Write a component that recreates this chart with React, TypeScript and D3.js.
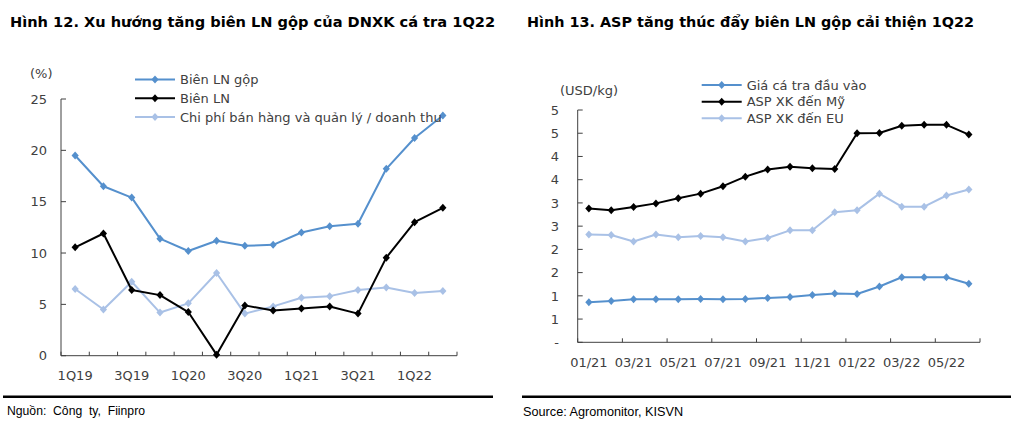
import React from "react";
import * as d3 from "d3";

// Left chart data (Hình 12)
const quarters = ["1Q19","2Q19","3Q19","4Q19","1Q20","2Q20","3Q20","4Q20","1Q21","2Q21","3Q21","4Q21","1Q22","2Q22"];
const grossMargin = [19.5,16.5,15.4,11.4,10.2,11.2,10.7,10.8,12.0,12.6,12.85,18.2,21.2,23.4];
const netMargin = [10.55,11.9,6.4,5.9,4.25,0.1,4.9,4.4,4.6,4.8,4.1,9.55,13.0,14.4];
const sgaRatio = [6.5,4.5,7.2,4.2,5.1,8.05,4.1,4.8,5.65,5.8,6.4,6.65,6.1,6.3];
const leftTicks = [0,5,10,15,20,25];

// Right chart data (Hình 13)
const months = ["01/21","02/21","03/21","04/21","05/21","06/21","07/21","08/21","09/21","10/21","11/21","12/21","01/22","02/22","03/22","04/22","05/22","06/22"];
const rawFishPrice = [0.86,0.89,0.925,0.925,0.925,0.93,0.925,0.93,0.955,0.975,1.02,1.05,1.04,1.2,1.4,1.4,1.4,1.26];
const aspUS = [2.88,2.84,2.91,2.99,3.1,3.2,3.36,3.565,3.72,3.78,3.745,3.73,4.5,4.505,4.66,4.685,4.68,4.47];
const aspEU = [2.32,2.31,2.17,2.32,2.26,2.29,2.26,2.17,2.245,2.41,2.41,2.8,2.84,3.2,2.92,2.92,3.16,3.29];
const rightTicks = [0,0.5,1,1.5,2,2.5,3,3.5,4,4.5,5];

const BLUE = "#5590CD";
const LIGHT = "#A9C1E6";
const BLACK = "#000000";
const AXIS = "#404040";
const TXT = "#404040";
const FONT = "Tahoma, 'DejaVu Sans', sans-serif";
const SRC_FONT = "'Liberation Sans Narrow', 'Liberation Sans', Arial, sans-serif";

const diamond = (x: number, y: number) => `M${x},${y - 4}L${x + 3.6},${y}L${x},${y + 4}L${x - 3.6},${y}Z`;

function Series({ xs, ys, color }: { xs: number[]; ys: number[]; color: string }) {
  const pts = xs.map((x, i) => [x, ys[i]] as [number, number]);
  const line = d3.line()(pts) || "";
  return (
    <g>
      <path d={line} fill="none" stroke={color} strokeWidth={2} strokeLinejoin="round" />
      {pts.map((p, i) => (
        <path key={i} d={diamond(p[0], p[1])} fill={color} />
      ))}
    </g>
  );
}

function LegendItem({ x, y, color, label }: { x: number; y: number; color: string; label: string }) {
  return (
    <g>
      <line x1={x} x2={x + 40} y1={y} y2={y} stroke={color} strokeWidth={2} />
      <path d={diamond(x + 20, y)} fill={color} />
      <text x={x + 45} y={y} dy="0.36em" fontSize={13} fill={TXT} fontFamily={FONT}>{label}</text>
    </g>
  );
}

function LeftChart() {
  const x = d3.scaleBand<string>().domain(quarters).range([61, 457]);
  const y = d3.scaleLinear().domain([0, 25]).range([355.7, 99]);
  const cx = (c: string) => (x(c) as number) + x.bandwidth() / 2;
  const xs = quarters.map(cx);
  const boundaries = quarters.map((c) => x(c) as number).concat([457]);
  return (
    <g>
      <text x={10} y={22} dy="0.36em" fontSize={14.6} fontWeight="bold" fontFamily={FONT} fill="#000">
        Hình 12. Xu hướng tăng biên LN gộp của DNXK cá tra 1Q22
      </text>
      <text x={30} y={73} dy="0.36em" fontSize={13} fill={TXT} fontFamily={FONT}>(%)</text>
      <line x1={61} x2={61} y1={y(25)} y2={y(0)} stroke={AXIS} strokeWidth={1} />
      <line x1={61} x2={457} y1={y(0)} y2={y(0)} stroke={AXIS} strokeWidth={1} />
      {leftTicks.map((t) => (
        <g key={t}>
          <line x1={61} x2={66} y1={y(t)} y2={y(t)} stroke={AXIS} />
          <text x={47} y={y(t)} dy="0.36em" textAnchor="end" fontSize={13} fill={TXT} fontFamily={FONT}>{t}</text>
        </g>
      ))}
      {boundaries.map((b, i) => (
        <line key={i} x1={b} x2={b} y1={y(0)} y2={y(0) - 4} stroke={AXIS} />
      ))}
      {quarters.map((q, i) =>
        i % 2 === 0 ? (
          <text key={q} x={cx(q)} y={375} dy="0.36em" textAnchor="middle" fontSize={13} fill={TXT} fontFamily={FONT}>{q}</text>
        ) : null
      )}
      <Series xs={xs} ys={sgaRatio.map(y)} color={LIGHT} />
      <Series xs={xs} ys={grossMargin.map(y)} color={BLUE} />
      <Series xs={xs} ys={netMargin.map(y)} color={BLACK} />
      <LegendItem x={135} y={79.5} color={BLUE} label="Biên LN gộp" />
      <LegendItem x={135} y={98.3} color={BLACK} label="Biên LN" />
      <LegendItem x={135} y={117} color={LIGHT} label="Chi phí bán hàng và quản lý / doanh thu" />
      <line x1={3} x2={493} y1={396.7} y2={396.7} stroke="#000" strokeWidth={2.5} />
      <text x={7} y={411} dy="0.36em" fontSize={12.2} fontFamily={SRC_FONT} fill="#000" style={{ whiteSpace: "pre" }}>
        {"Nguồn:  Công  ty,  Fiinpro"}
      </text>
    </g>
  );
}

function RightChart() {
  const x = d3.scaleBand<string>().domain(months).range([577.7, 980]);
  const y = d3.scaleLinear().domain([0, 5]).range([342.3, 110]);
  const cx = (c: string) => (x(c) as number) + x.bandwidth() / 2;
  const xs = months.map(cx);
  const boundaries = months.filter((_, i) => i % 2 === 0).map((c) => x(c) as number).concat([980]);
  const fmt = (v: number) => (v === 0 ? "-" : String(Math.round(v + 1e-9)));
  return (
    <g>
      <text x={527} y={22} dy="0.36em" fontSize={14.4} fontWeight="bold" fontFamily={FONT} fill="#000">
        Hình 13. ASP tăng thúc đẩy biên LN gộp cải thiện 1Q22
      </text>
      <text x={560} y={90} dy="0.36em" fontSize={13} fill={TXT} fontFamily={FONT}>(USD/kg)</text>
      <line x1={577.7} x2={577.7} y1={y(5)} y2={y(0)} stroke={AXIS} />
      <line x1={577.7} x2={980} y1={y(0)} y2={y(0)} stroke={AXIS} />
      {rightTicks.map((t) => (
        <g key={t}>
          <line x1={577.7} x2={582.7} y1={y(t)} y2={y(t)} stroke={AXIS} />
          <text x={559} y={y(t)} dy="0.36em" textAnchor="end" fontSize={13} fill={TXT} fontFamily={FONT}>{fmt(t)}</text>
        </g>
      ))}
      {boundaries.map((b, i) => (
        <line key={i} x1={b} x2={b} y1={y(0)} y2={y(0) - 4} stroke={AXIS} />
      ))}
      {months.map((m, i) =>
        i % 2 === 0 ? (
          <text key={m} x={cx(m)} y={362} dy="0.36em" textAnchor="middle" fontSize={13} fill={TXT} fontFamily={FONT}>{m}</text>
        ) : null
      )}
      <Series xs={xs} ys={aspEU.map(y)} color={LIGHT} />
      <Series xs={xs} ys={rawFishPrice.map(y)} color={BLUE} />
      <Series xs={xs} ys={aspUS.map(y)} color={BLACK} />
      <LegendItem x={701.7} y={85} color={BLUE} label="Giá cá tra đầu vào" />
      <LegendItem x={701.7} y={101.7} color={BLACK} label="ASP XK đến Mỹ" />
      <LegendItem x={701.7} y={118.3} color={LIGHT} label="ASP XK đến EU" />
      <line x1={522} x2={1011} y1={396.7} y2={396.7} stroke="#000" strokeWidth={2.5} />
      <text x={523} y={411} dy="0.36em" fontSize={12.7} fontFamily={SRC_FONT} fill="#000">
        Source: Agromonitor, KISVN
      </text>
    </g>
  );
}

export default function App() {
  return (
    <svg width={1016} height={432} style={{ position: "absolute", left: 0, top: 0, background: "#fff" }}>
      <rect width={1016} height={432} fill="#fff" />
      <LeftChart />
      <RightChart />
    </svg>
  );
}
